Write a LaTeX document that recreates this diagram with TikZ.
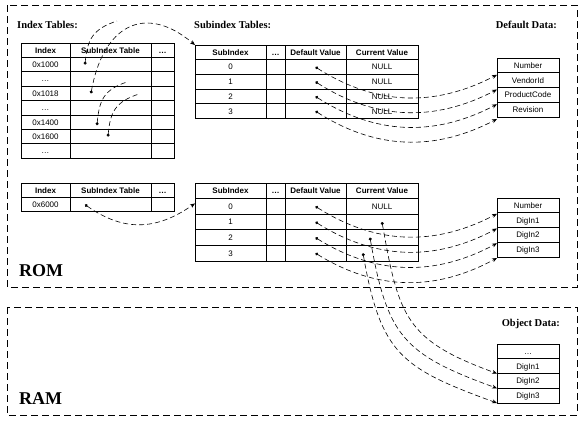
\documentclass[tikz,border=0pt]{standalone}
\usepackage{fontspec}
\setmainfont{Liberation Serif}
\setsansfont{Liberation Sans}
\usetikzlibrary{arrows.meta}
\tikzset{
	cell/.style={draw, rectangle, inner sep=0pt, outer sep=0pt, anchor=north west,
		text height=5.8pt, text depth=0pt,
		line width=0.8pt, font=\sffamily\fontsize{8}{8}\selectfont},
	head/.style={cell, font=\sffamily\bfseries\fontsize{8}{8}\selectfont},
	area/.style={draw, dash pattern=on 7pt off 4pt, line width=0.9pt},
	areatitle/.style={inner sep=0pt, font=\bfseries\fontsize{10.5}{10.5}\selectfont},
	memlab/.style={inner sep=0pt, anchor=base west, font=\bfseries\fontsize{18}{18}\selectfont},
	ptr/.style={dash pattern=on 5pt off 3pt, line width=0.6pt,
		{Circle[length=3pt]}-{Stealth[length=5pt,width=4pt]}},
	ptrstub/.style={dash pattern=on 5pt off 3pt, line width=0.6pt, {Circle[length=3pt]}-}
}

\begin{document}
\begin{tikzpicture}[x=1pt, y=1pt]
	\useasboundingbox (0,0) rectangle (582,-424);
	% memory areas
	\draw[area] (7,-5) rectangle (577,-287);
	\draw[area] (7,-307) rectangle (577,-415);
	\node[memlab] (rom) at (19,-276) {ROM};
	\node[memlab] (ram) at (19,-404) {RAM};
	\node[areatitle, anchor=base west] (idxtitle) at (17,-28) {Index Tables:};
	\node[areatitle, anchor=base west] (subtitle) at (194,-28) {Subindex Tables:};
	\node[areatitle, anchor=base east] (deftitle) at (557,-28) {Default Data:};
	\node[areatitle, anchor=base east] (objtitle) at (560,-326) {Object Data:};
	
	% index tables
	\begin{scope}[every node/.append style={minimum height=14.4pt}]
		\node[head, minimum width=49pt] (it1-0-1) at (21,-43) {Index};
		\node[head, minimum width=81pt] (it1-0-2) at (70,-43) {SubIndex Table};
		\node[head, minimum width=23pt] (it1-0-3) at (151,-43) {\ldots};
		\foreach \txt [count=\row] in {0x1000,\ldots,0x1018,\ldots,0x1400,0x1600,\ldots} {
			\node[cell, minimum width=49pt] (it1-\row-1) at (21,{-43-14.4*\row}) {\txt};
			\node[cell, minimum width=81pt] (it1-\row-2) at (70,{-43-14.4*\row}) {};
			\node[cell, minimum width=23pt] (it1-\row-3) at (151,{-43-14.4*\row}) {};
		}
		\node[head, minimum width=49pt] (it2-0-1) at (21,-183) {Index};
		\node[head, minimum width=81pt] (it2-0-2) at (70,-183) {SubIndex Table};
		\node[head, minimum width=23pt] (it2-0-3) at (151,-183) {\ldots};
		\node[cell, minimum width=49pt] (it2-1-1) at (21,-197.4) {0x6000};
		\node[cell, minimum width=81pt] (it2-1-2) at (70,-197.4) {};
		\node[cell, minimum width=23pt] (it2-1-3) at (151,-197.4) {};
	\end{scope}
	
	% subindex tables
	\begin{scope}[every node/.append style={minimum height=14.7pt}]
		\node[head, minimum width=71pt] (si1-h-1) at (195,-45) {SubIndex};
		\node[head, minimum width=19pt] (si1-h-2) at (266,-45) {\ldots};
		\node[head, minimum width=61pt] (si1-h-3) at (285,-45) {Default Value};
		\node[head, minimum width=72pt] (si1-h-4) at (346,-45) {Current Value};
		\foreach \row in {0,...,3} {
			\node[cell, minimum width=71pt] (si1-\row-1) at (195,{-59.7-14.7*\row}) {\row};
			\node[cell, minimum width=19pt] (si1-\row-2) at (266,{-59.7-14.7*\row}) {};
			\node[cell, minimum width=61pt] (si1-\row-3) at (285,{-59.7-14.7*\row}) {};
			\node[cell, minimum width=72pt] (si1-\row-4) at (346,{-59.7-14.7*\row}) {NULL};
		}
	\end{scope}
	\begin{scope}[every node/.append style={minimum height=15.6pt}]
		\node[head, minimum width=71pt] (si2-h-1) at (195,-183) {SubIndex};
		\node[head, minimum width=19pt] (si2-h-2) at (266,-183) {\ldots};
		\node[head, minimum width=61pt] (si2-h-3) at (285,-183) {Default Value};
		\node[head, minimum width=72pt] (si2-h-4) at (346,-183) {Current Value};
		\foreach \row/\cur in {0/NULL,1/{},2/{},3/{}} {
			\node[cell, minimum width=71pt] (si2-\row-1) at (195,{-198.6-15.6*\row}) {\row};
			\node[cell, minimum width=19pt] (si2-\row-2) at (266,{-198.6-15.6*\row}) {};
			\node[cell, minimum width=61pt] (si2-\row-3) at (285,{-198.6-15.6*\row}) {};
			\node[cell, minimum width=72pt] (si2-\row-4) at (346,{-198.6-15.6*\row}) {\cur};
		}
	\end{scope}
	
	% default and object data
	\begin{scope}[every node/.append style={minimum height=14.75pt, minimum width=62pt}]
		\foreach \txt [count=\row from 0] in {Number,VendorId,ProductCode,Revision}
			\node[cell] (dd1-\row) at (497,{-58-14.75*\row}) {\txt};
		\foreach \txt [count=\row from 0] in {Number,DigIn1,DigIn2,DigIn3}
			\node[cell] (dd2-\row) at (497,{-198-14.75*\row}) {\txt};
		\foreach \txt [count=\row from 0] in {\ldots,DigIn1,DigIn2,DigIn3}
			\node[cell] (od-\row) at (497,{-344-14.75*\row}) {\txt};
	\end{scope}
	
	% pointers
	\coordinate (c1000) at (117,-21);
	\coordinate (c1400) at (127,-82);
	\coordinate (c1600) at (139,-94);
	\draw[ptrstub] ([xshift=15pt]it1-1-2.west) to[out=85,in=-162,looseness=1.2] (c1000);
	\draw[ptr] ([xshift=21pt]it1-3-2.west) to[out=80,in=140,looseness=1.5] (si1-h-1.north west);
	\draw[ptrstub] ([xshift=27pt,yshift=-3pt]it1-5-2.west) to[out=85,in=-162,looseness=1.2] (c1400);
	\draw[ptrstub] ([xshift=38pt]it1-6-2.west) to[out=85,in=-162,looseness=1.2] (c1600);
	\draw[ptr] ([xshift=15pt]it2-1-2.west) to[out=-35,in=-145,looseness=1.1] ([yshift=3pt]si2-0-1.west);
	\foreach \row in {0,...,3} {
		\draw[ptr] (si1-\row-3.center) to[bend right=30] ([yshift=-2pt]dd1-\row.south west);
		\draw[ptr] (si2-\row-3.center) to[bend right=30] ([yshift=-1pt]dd2-\row.south west);
	}
	\draw[ptr] (si2-1-4.center) to[out=-80,in=160,looseness=1.3] (od-1.south west);
	\draw[ptr] ([xshift=-12pt]si2-2-4.center) to[out=-80,in=160,looseness=1.3] (od-2.south west);
	\draw[ptr] ([xshift=-19pt]si2-3-4.center) to[out=-80,in=160,looseness=1.3] (od-3.south west);
\end{tikzpicture}
\end{document}
